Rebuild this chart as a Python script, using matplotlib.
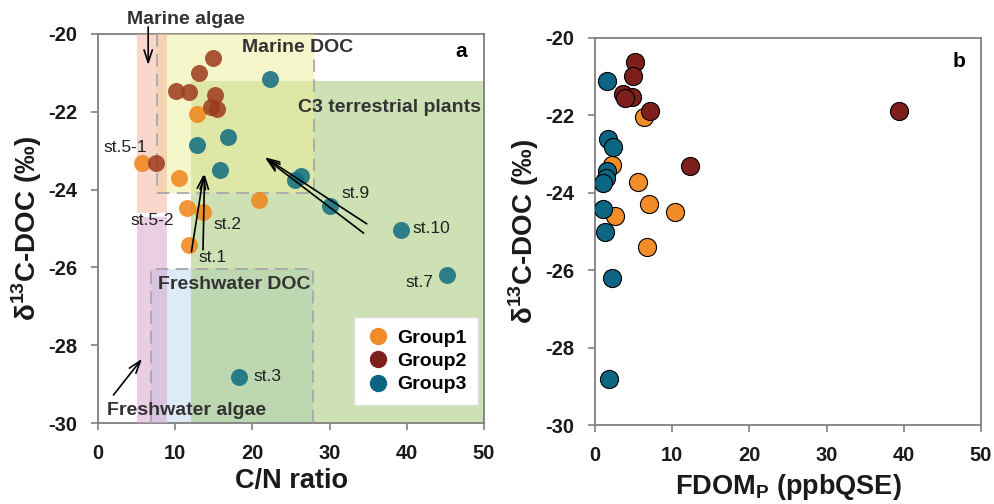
import matplotlib
matplotlib.use('Agg')
import matplotlib.pyplot as plt
from matplotlib.patches import Rectangle
from matplotlib.lines import Line2D

plt.rcParams['font.family'] = ['Liberation Sans', 'DejaVu Sans']
plt.rcParams['axes.unicode_minus'] = False
plt.rcParams['mathtext.fontset'] = 'custom'
plt.rcParams['mathtext.rm'] = 'Liberation Sans'
plt.rcParams['mathtext.bf'] = 'Liberation Sans:bold'

# panel a : C/N ratio vs d13C-DOC
cn_g1 = [12.8, 5.7, 10.5, 20.9, 11.5, 13.65, 11.8]
d13_a_g1 = [-22.06, -23.32, -23.7, -24.28, -24.48, -24.58, -25.42]
cn_g2 = [14.9, 13.1, 10.1, 11.8, 15.2, 14.6, 15.4, 7.5]
d13_a_g2 = [-20.62, -21.0, -21.47, -21.5, -21.57, -21.88, -21.94, -23.32]
cn_g3 = [22.3, 16.8, 12.8, 15.8, 26.3, 25.5, 30.1, 39.2, 45.25, 18.3]
d13_a_g3 = [-21.17, -22.64, -22.85, -23.5, -23.65, -23.75, -24.42, -25.04, -26.2, -28.83]

# panel b : FDOM_P vs d13C-DOC
fdom_g1 = [6.35, 2.16, 5.6, 7.0, 10.4, 2.6, 6.7]
d13_b_g1 = [-22.05, -23.28, -23.71, -24.29, -24.5, -24.59, -25.39]
fdom_g2 = [5.18, 4.97, 3.67, 4.75, 3.9, 7.1, 39.4, 12.3]
d13_b_g2 = [-20.61, -20.98, -21.45, -21.52, -21.56, -21.9, -21.88, -23.3]
fdom_g3 = [1.5, 1.73, 2.37, 1.5, 1.43, 1.0, 1.0, 1.3, 2.16, 1.86]
d13_b_g3 = [-21.11, -22.62, -22.83, -23.43, -23.62, -23.74, -24.42, -25.02, -26.19, -28.82]

# source end-member boxes (x0, x1, y0, y1)
c3_box = (12.1, 50, -30, -21.2)
marine_doc_box = (7.6, 28, -24.1, -20)
fresh_doc_box = (6.9, 27.8, -30, -26.05)
marine_algae_box = (5.0, 8.9, -24.6, -20)
fresh_algae_box = (5.0, 8.9, -30, -24.7)

station_labels = ['st.5-1', 'st.5-2', 'st.2', 'st.1', 'st.9', 'st.10', 'st.7', 'st.3']
station_xy = [(3.5, -22.93), (7.0, -24.8), (16.8, -24.9), (14.8, -25.75),
              (33.4, -24.09), (43.2, -25.0), (41.6, -26.4), (22.0, -28.8)]

c1_a, c2_a, c3_a = '#f08419', '#9c3a1c', '#0e6c80'
c1, c2, c3 = '#f28c28', '#7d1f1a', '#0b6583'

fig = plt.figure(figsize=(9.95, 5.04), dpi=100)
ax1 = fig.add_axes([0.0985, 0.1607, 0.388, 0.772])
ax2 = fig.add_axes([0.598, 0.1567, 0.388, 0.768])


def box(ax, b, fc, alpha, z):
    ax.add_patch(Rectangle((b[0], b[2]), b[1] - b[0], b[3] - b[2],
                           facecolor=fc, edgecolor='none', alpha=alpha, zorder=z))


def dashed(ax, xs, ys):
    ax.plot(xs, ys, color='#a8a8a8', lw=1.3, ls=(0, (7, 4)), zorder=5)


box(ax1, fresh_doc_box, '#bcd8f0', 0.5, 1)
box(ax1, c3_box, '#9fc46a', 0.5, 2)
box(ax1, marine_doc_box, '#eeee99', 0.5, 3)
box(ax1, marine_algae_box, '#f4b09a', 0.5, 4)
box(ax1, fresh_algae_box, '#d8a6cf', 0.55, 4)

m = marine_doc_box
dashed(ax1, [m[0], m[0], m[1], m[1]], [m[3], m[2], m[2], m[3]])
f = fresh_doc_box
dashed(ax1, [f[0], f[0], f[1], f[1]], [f[2], f[3], f[3], f[2]])

ax1.scatter(cn_g1, d13_a_g1, s=150, color=c1_a, alpha=0.85, lw=0, zorder=6)
ax1.scatter(cn_g2, d13_a_g2, s=150, color=c2_a, alpha=0.85, lw=0, zorder=6)
ax1.scatter(cn_g3, d13_a_g3, s=150, color=c3_a, alpha=0.85, lw=0, zorder=6)

for lab, (x, y) in zip(station_labels, station_xy):
    ax1.text(x, y, lab, fontsize=12.5, ha='center', va='center', color='#222222', zorder=7)

bold_txt = dict(fontsize=14, fontweight='bold', color='#333333', ha='center', va='center', zorder=7)
ax1.text(25.8, -20.36, 'Marine DOC', **bold_txt)
ax1.text(37.7, -21.88, 'C3 terrestrial plants', **bold_txt)
ax1.text(17.7, -26.43, 'Freshwater DOC', **bold_txt)
ax1.text(11.5, -29.67, 'Freshwater algae', **bold_txt)
ax1.text(11.4, -19.63, 'Marine algae', clip_on=False, **bold_txt)
ax1.text(47.1, -20.45, 'a', fontsize=15, fontweight='bold', ha='center', va='center')
ax2.text(47.1, -20.6, 'b', fontsize=15, fontweight='bold', ha='center', va='center')

arr = dict(arrowstyle='->,head_length=0.9,head_width=0.3', color='black', lw=1.2,
           shrinkA=0, shrinkB=0)
ax1.annotate('', xy=(6.5, -20.8), xytext=(6.5, -19.82), arrowprops=arr,
             annotation_clip=False, zorder=8)
ax1.annotate('', xy=(5.7, -28.35), xytext=(2.0, -29.28), arrowprops=arr, zorder=8)
ax1.annotate('', xy=(13.7, -23.6), xytext=(12.1, -25.6), arrowprops=arr, zorder=8)
ax1.annotate('', xy=(13.8, -23.6), xytext=(13.6, -25.55), arrowprops=arr, zorder=8)
ax1.annotate('', xy=(21.6, -23.17), xytext=(34.8, -24.88), arrowprops=arr, zorder=8)
ax1.annotate('', xy=(21.7, -23.2), xytext=(34.4, -25.12), arrowprops=arr, zorder=8)

handles = [Line2D([], [], marker='o', ls='none', ms=12.5, color=c, mew=0) for c in (c1, c2, c3)]
leg = ax1.legend(handles, ['Group1', 'Group2', 'Group3'], loc='lower right',
                 bbox_to_anchor=(0.984, 0.046), borderaxespad=0,
                 prop={'size': 14, 'weight': 'bold'},
                 fancybox=False, framealpha=1, edgecolor='#dddddd', handletextpad=0.3,
                 labelspacing=0.3, handlelength=1.3, borderpad=0.6)
leg.set_zorder(9)

ax2.scatter(fdom_g1, d13_b_g1, s=170, color=c1, edgecolor='black', lw=0.8, zorder=6)
ax2.scatter(fdom_g2, d13_b_g2, s=170, color=c2, edgecolor='black', lw=0.8, zorder=6)
ax2.scatter(fdom_g3, d13_b_g3, s=170, color=c3, edgecolor='black', lw=0.8, zorder=6)

ylab = r'δ$^{\mathbf{13}}$C-DOC (‰)'
for ax, xl, lp in ((ax1, 'C/N ratio', 4), (ax2, r'FDOM$_{\mathbf{P}}$ (ppbQSE)', 5)):
    ax.set_xlim(0, 50)
    ax.set_ylim(-30, -20)
    ax.set_xticks(range(0, 51, 10))
    ax.set_yticks(range(-30, -19, 2))
    for sp in ax.spines.values():
        sp.set_color('#808080')
        sp.set_linewidth(1.3)
    ax.tick_params(direction='out', length=5, width=1.2, color='#808080', labelsize=14.5, pad=10)
    for t in ax.get_xticklabels() + ax.get_yticklabels():
        t.set_fontweight('bold')
        t.set_color('#1a1a1a')
    ax.set_xlabel(xl, fontsize=19.5, fontweight='bold', color='#1a1a1a', labelpad=lp)
    ax.set_ylabel(ylab, fontsize=20, fontweight='bold', color='#1a1a1a', labelpad=3)

fig.savefig('out.png', dpi=100)
